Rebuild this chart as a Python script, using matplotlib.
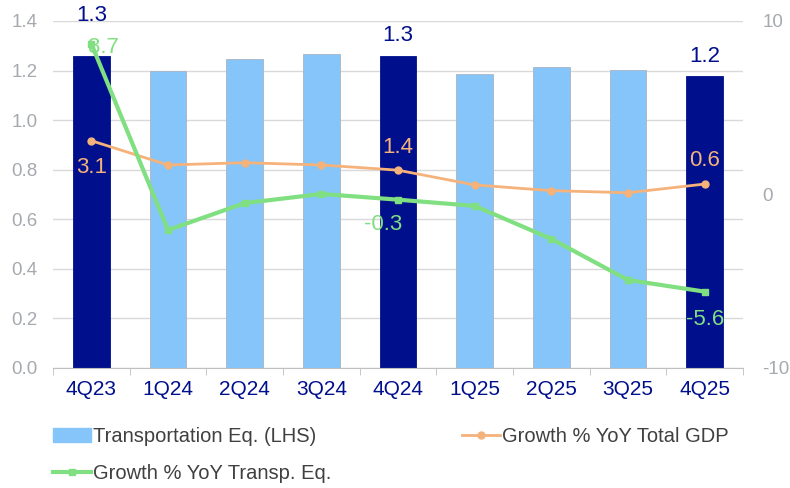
import matplotlib.pyplot as plt
from matplotlib.ticker import FixedLocator
import numpy as np

plt.rcParams['font.family'] = ['Liberation Sans', 'DejaVu Sans']
plt.rcParams['axes.unicode_minus'] = False

quarters = ["4Q23", "1Q24", "2Q24", "3Q24", "4Q24", "1Q25", "2Q25", "3Q25", "4Q25"]
transp_eq = [1.26, 1.198, 1.246, 1.267, 1.26, 1.188, 1.216, 1.202, 1.18]
gdp_yoy = [3.1, 1.7, 1.83, 1.7, 1.4, 0.55, 0.22, 0.1, 0.6]
transp_yoy = [8.7, -2.05, -0.5, 0.03, -0.3, -0.66, -2.56, -4.93, -5.6]
highlight = ["4Q23", "4Q24", "4Q25"]

navy = "#000F8C"
light_blue = "#85C5F9"
orange = "#F5B27A"
green = "#80DF80"
gray_txt = "#A6A9AE"

fig = plt.figure(figsize=(7.9, 4.88), dpi=100)
ax = fig.add_axes([0.067, 0.246, 0.8735, 0.711])
x = np.arange(len(quarters))

colors = [navy if q in highlight else light_blue for q in quarters]
edges = [navy if q in highlight else "#A9B4C2" for q in quarters]
ax.bar(x, transp_eq, width=0.48, color=colors, edgecolor=edges, linewidth=0.6, zorder=2)
ax.set_ylim(0, 1.4)
ax.set_xlim(-0.5, len(quarters) - 0.5)
ax.set_yticks(np.arange(0, 1.41, 0.2))
ax.set_yticklabels([f"{v:.1f}" for v in np.arange(0, 1.41, 0.2)])
ax.grid(axis='y', color="#D9D9D9", linewidth=1, zorder=0)
ax.set_axisbelow(True)
for s in ['top', 'right', 'left']:
    ax.spines[s].set_visible(False)
ax.spines['bottom'].set_color("#BFBFBF")
ax.tick_params(axis='y', length=0, colors=gray_txt, labelsize=13.5, pad=11)
ax.set_xticks(x)
ax.set_xticklabels(quarters)
ax.tick_params(axis='x', length=0, colors=navy, labelsize=15, pad=9)
ax.xaxis.set_minor_locator(FixedLocator(np.arange(-0.5, len(quarters), 1)))
ax.tick_params(axis='x', which='minor', length=5, color="#BFBFBF")

ax2 = ax.twinx()
ax2.set_ylim(-10, 10)
ax2.set_yticks([-10, 0, 10])
for s in ['top', 'right', 'left', 'bottom']:
    ax2.spines[s].set_visible(False)
ax2.tick_params(axis='y', length=0, colors=gray_txt, labelsize=13.5, pad=14)

l_gdp, = ax2.plot(x, gdp_yoy, color=orange, linewidth=2, marker='o', markersize=5,
                  label="Growth % YoY Total GDP", zorder=3)
l_tr, = ax2.plot(x, transp_yoy, color=green, linewidth=3, marker='s', markersize=5,
                 label="Growth % YoY Transp. Eq.", zorder=4)

# labels on the highlighted quarters
bar_offsets = {"4Q23": 29, "4Q24": 14.5, "4Q25": 14}
for i, q in enumerate(quarters):
    if q not in highlight:
        continue
    ax.annotate(f"{transp_eq[i]:.1f}", (x[i], transp_eq[i]), xytext=(0, bar_offsets[q]),
                textcoords='offset points', ha='center', va='center',
                color=navy, fontsize=16, clip_on=False)

gdp_offsets = {"4Q23": (0, -19), "4Q24": (0, 16.5), "4Q25": (0, 17)}
transp_offsets = {"4Q23": (9, -3), "4Q24": (-11, -18), "4Q25": (0, -20)}
for i, q in enumerate(quarters):
    if q in gdp_offsets:
        ax2.annotate(f"{gdp_yoy[i]:.1f}", (x[i], gdp_yoy[i]), xytext=gdp_offsets[q],
                     textcoords='offset points', ha='center', va='center',
                     color=orange, fontsize=16)
    if q in transp_offsets:
        ax2.annotate(f"{transp_yoy[i]:.1f}", (x[i], transp_yoy[i]), xytext=transp_offsets[q],
                     textcoords='offset points', ha='center', va='center',
                     color=green, fontsize=16, zorder=6)

bar_handle = plt.Rectangle((0, 0), 1, 1, color=light_blue)
fig.legend([bar_handle, l_tr, l_gdp],
           ["Transportation Eq. (LHS)", l_tr.get_label(), l_gdp.get_label()],
           loc='upper left', bbox_to_anchor=(0.057, 0.141), ncol=2, frameon=False,
           fontsize=14.5, labelcolor="#404040", handlelength=1.9, handletextpad=0.1,
           columnspacing=6.45, labelspacing=0.9, borderaxespad=0)

fig.savefig("out.png", dpi=100)
